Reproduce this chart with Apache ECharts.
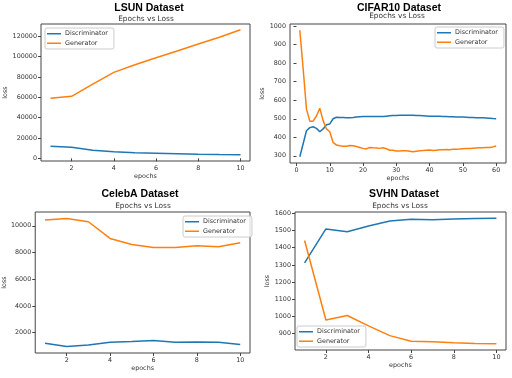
<!DOCTYPE html>
<html><head><meta charset="utf-8">
<script src="https://cdn.jsdelivr.net/npm/echarts@6/dist/echarts.min.js"></script>
<style>html,body{margin:0;padding:0;background:#fff}#c{width:512px;height:378px}</style>
</head><body><div id="c"></div>
<script>
const lsunEpochs = [1,2,3,4,5,6,7,8,9,10];
const lsunDisc = [12000,11000,8000,6500,5500,5000,4500,4000,3700,3500];
const lsunGen = [59000,61000,73000,84500,92000,99000,105500,112500,119000,126500];

const cifarEpochs = Array.from({length:60},(_, i)=>i+1);
const cifarDisc = [295,365,435,452,457,448,430,445,468,472,500,508,507,507,506,506,507,509,511,512,512,512,512,512,512,512,514,516,517,518,519,519,519,519,519,518,517,516,515,514,514,513,513,512,512,511,511,510,510,509,508,507,507,506,506,505,504,503,501,500];
const cifarGen = [978,770,552,487,487,515,557,490,445,430,372,358,354,352,352,356,354,350,345,340,337,345,343,342,340,343,338,330,330,326,326,327,327,325,322,325,327,328,330,331,328,330,332,333,334,333,335,335,336,338,340,340,341,342,343,344,345,345,348,353];

const celebaEpochs = [1,2,3,4,5,6,7,8,9,10];
const celebaDisc = [1200,950,1075,1275,1325,1400,1275,1300,1275,1100];
const celebaGen = [10425,10550,10300,9050,8600,8375,8375,8500,8425,8725];

const svhnEpochs = [1,2,3,4,5,6,7,8,9,10];
const svhnDisc = [1312,1509,1493,1526,1555,1565,1563,1567,1569,1571];
const svhnGen = [1442,979,1005,945,888,855,853,847,843,841];

const epochTicks10 = [2,4,6,8,10];
const epochTicks60 = [0,10,20,30,40,50,60];
const lsunYTicks = [0,20000,40000,60000,80000,100000,120000];
const cifarYTicks = [300,400,500,600,700,800,900,1000];
const celebaYTicks = [2000,4000,6000,8000,10000];
const svhnYTicks = [900,1000,1100,1200,1300,1400,1500,1600];

const titles = ['LSUN Dataset','CIFAR10 Dataset','CelebA Dataset','SVHN Dataset'];
const subtitle = 'Epochs vs Loss';
const names = ['Discriminator','Generator'];

const BLUE = '#1f77b4', ORANGE = '#ff7f0e';
const FONT = 'DejaVu Sans';
const FS = 6.4;

const panels = [
  {grid:{left:41,top:24,width:209,height:137}, x:[0.55,10.45], y:[-2600,132100], xt:epochTicks10, yt:lsunYTicks, ep:lsunEpochs, d:lsunDisc, g:lsunGen, yGap:24,
   title:[149,8], sub:[146,19], legend:{left:45,top:28}},
  {grid:{left:290,top:24,width:216,height:139}, x:[-1.95,62.95], y:[261,1012], xt:epochTicks60, yt:cifarYTicks, ep:cifarEpochs, d:cifarDisc, g:cifarGen, yGap:22,
   title:[399,8], sub:[397,16], legend:{left:435,top:27}},
  {grid:{left:35,top:212,width:215,height:141}, x:[0.55,10.45], y:[470,11030], xt:epochTicks10, yt:celebaYTicks, ep:celebaEpochs, d:celebaDisc, g:celebaGen, yGap:27,
   title:[140,194], sub:[143,206], legend:{left:183,top:216}},
  {grid:{left:295,top:212,width:211,height:138}, x:[0.55,10.45], y:[804.5,1607.5], xt:epochTicks10, yt:svhnYTicks, ep:svhnEpochs, d:svhnDisc, g:svhnGen, yGap:23,
   title:[404,194], sub:[400,206], legend:{left:297,top:326}}
];

const option = {
  animation:false,
  backgroundColor:'#fff',
  grid:[], xAxis:[], yAxis:[], series:[], legend:[], graphic:[]
};

panels.forEach((p, i) => {
  option.grid.push(Object.assign({show:true, borderColor:'#444', borderWidth:1, backgroundColor:'transparent'}, p.grid));
  option.xAxis.push({
    type:'value', gridIndex:i, min:p.x[0], max:p.x[1],
    name:'epochs', nameLocation:'middle', nameGap:12,
    nameTextStyle:{fontFamily:FONT, fontSize:FS, color:'#333'},
    axisLine:{show:false}, splitLine:{show:false},
    axisTick:{show:true, length:3, customValues:p.xt, lineStyle:{color:'#444'}},
    axisLabel:{fontFamily:FONT, fontSize:FS, color:'#333', margin:4, customValues:p.xt, formatter:v=>String(v)}
  });
  option.yAxis.push({
    type:'value', gridIndex:i, min:p.y[0], max:p.y[1],
    name:'loss', nameLocation:'middle', nameGap:p.yGap,
    nameTextStyle:{fontFamily:FONT, fontSize:FS, color:'#333'},
    axisLine:{show:false}, splitLine:{show:false},
    axisTick:{show:true, length:3, customValues:p.yt, lineStyle:{color:'#444'}},
    axisLabel:{fontFamily:FONT, fontSize:FS, color:'#333', margin:4, customValues:p.yt, formatter:v=>String(v)}
  });
  option.series.push({
    type:'line', name:names[0], xAxisIndex:i, yAxisIndex:i, showSymbol:false, symbol:'none',
    color:BLUE, lineStyle:{width:1.5, color:BLUE}, data:p.ep.map((e,k)=>[e,p.d[k]])
  });
  option.series.push({
    type:'line', name:names[1], xAxisIndex:i, yAxisIndex:i, showSymbol:false, symbol:'none',
    color:ORANGE, lineStyle:{width:1.5, color:ORANGE}, data:p.ep.map((e,k)=>[e,p.g[k]])
  });
  option.legend.push({
    left:p.legend.left, top:p.legend.top, orient:'vertical', data:names,
    icon:'rect', itemWidth:14, itemHeight:1.5, itemGap:2,
    padding:[2,6,2,2], borderColor:'#ccc', borderWidth:1, borderRadius:2, backgroundColor:'rgba(255,255,255,0.8)',
    textStyle:{fontFamily:FONT, fontSize:FS, color:'#333', lineHeight:7.5, padding:[0,0,0,-1]}, selectedMode:false
  });
  option.graphic.push({type:'text', x:p.title[0], y:p.title[1], style:{text:titles[i], fill:'#000', font:'bold 10.5px "Liberation Sans"', textAlign:'center', textVerticalAlign:'middle'}});
  option.graphic.push({type:'text', x:p.sub[0], y:p.sub[1], style:{text:subtitle, fill:'#333', font:'7.4px "DejaVu Sans"', textAlign:'center', textVerticalAlign:'middle'}});
});

const chart = echarts.init(document.getElementById('c'), null, {renderer:'canvas'});
chart.setOption(option);
</script>
</body></html>
